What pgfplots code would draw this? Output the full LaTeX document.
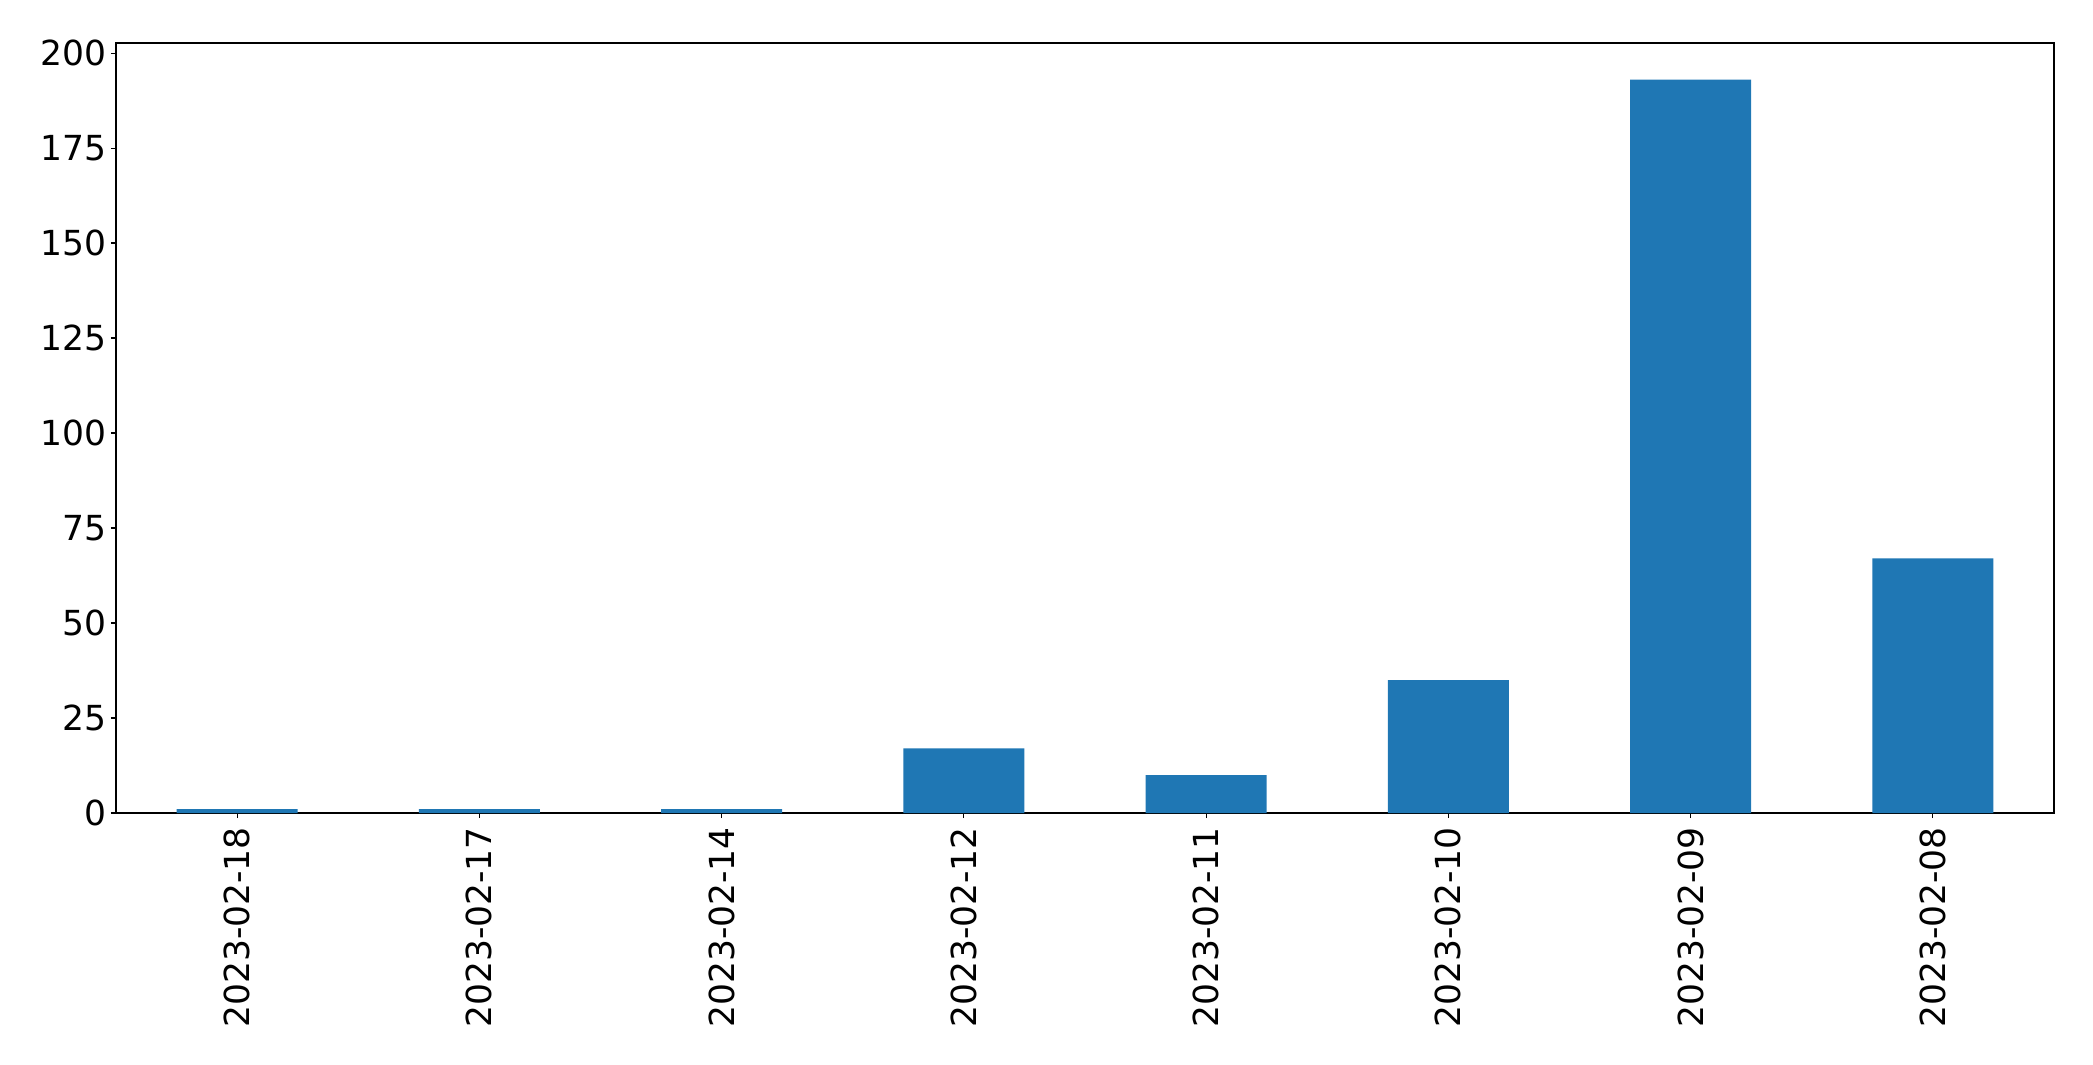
\documentclass[border=0pt]{standalone}
\usepackage{pgfplots}
\pgfplotsset{compat=1.18}
\usepackage{fontspec}
\setmainfont{DejaVu Sans}
\definecolor{mplblue}{HTML}{1F77B4}
\begin{document}
\begin{tikzpicture}
\begin{axis}[
  at={(0pt,0pt)}, anchor=south west,
  scale only axis,
  width=1938pt, height=770pt,
  xmin=-0.5, xmax=7.5, ymin=0, ymax=202.65,
  xtick={0,1,2,3,4,5,6,7},
  xticklabels={2023-02-18,2023-02-17,2023-02-14,2023-02-12,2023-02-11,2023-02-10,2023-02-09,2023-02-08},
  ytick={0,25,50,75,100,125,150,175,200},
  tick pos=left,
  tick align=outside,
  major tick length=5pt,
  every tick/.style={black, line width=1.1pt},
  axis line style={line width=1.1pt},
  /pgf/number format/assume math mode=true,
  tick label style={font=\fontsize{34.5}{41}\selectfont},
  xticklabel style={rotate=90, anchor=east, inner sep=0pt},
  xticklabel shift=9pt,
  yticklabel style={anchor=east, inner sep=0pt, xshift=-4pt},
]
\addplot[ybar, bar width=0.5, fill=mplblue, draw=none, bar shift=0pt] coordinates {
(0,1) (1,1) (2,1) (3,17) (4,10) (5,35) (6,193) (7,67)
};
\end{axis}
\pgfresetboundingbox
\path[use as bounding box] (-116pt,-252pt) rectangle (1977pt,813pt);
\end{tikzpicture}
\end{document}
